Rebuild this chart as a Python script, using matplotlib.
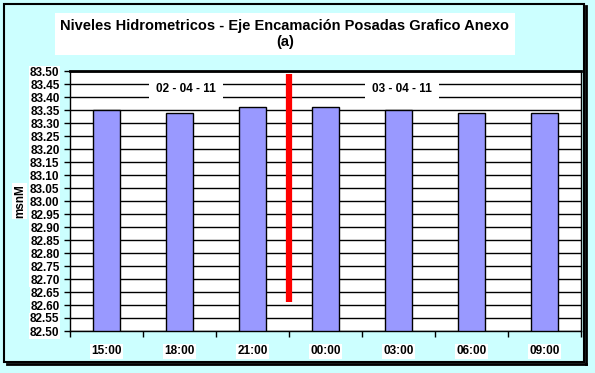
import numpy as np
import matplotlib
matplotlib.use("Agg")
from matplotlib import pyplot as plt
from matplotlib.patches import Rectangle

plt.rcParams['font.family'] = ['Liberation Sans', 'DejaVu Sans']
plt.rcParams['font.weight'] = 'bold'

horas = ['15:00', '18:00', '21:00', '00:00', '03:00', '06:00', '09:00']
niveles = [83.35, 83.34, 83.36, 83.36, 83.35, 83.34, 83.34]
fechas = ['02 - 04 - 11', '03 - 04 - 11']
fecha_x = [1.59, 4.55]
corte_x = 3.0
corte_y = [82.61, 83.49]

W, H = 595, 373
fig = plt.figure(figsize=(W / 100, H / 100), dpi=100)
fig.patch.set_facecolor('#CCFFFF')

# marco con sombra
fig.add_artist(Rectangle((4 / W, 1 - 362 / H), 580 / W, 358 / H, transform=fig.transFigure,
                         facecolor='none', edgecolor='black', lw=1.5))
fig.add_artist(plt.Line2D([586 / W, 586 / W], [1 - 364 / H, 1 - 6 / H], transform=fig.transFigure,
                          color='black', lw=2))
fig.add_artist(plt.Line2D([7 / W, 586 / W], [1 - 364 / H, 1 - 364 / H], transform=fig.transFigure,
                          color='black', lw=2))

ax = fig.add_axes([70 / W, 1 - 331 / H, 511 / W, 260 / H])
ax.set_facecolor('white')

x = np.arange(len(horas)) + 0.5
ax.bar(x, np.array(niveles) - 82.5, bottom=82.5, width=0.38, color='#9999FF',
       edgecolor='black', linewidth=1, zorder=3)

ax.set_xlim(0, len(horas))
ax.set_ylim(82.5, 83.5)
ax.set_yticks(np.arange(82.5, 83.501, 0.05))
ax.yaxis.grid(True, color='black', lw=1, zorder=0)
ax.set_axisbelow(True)
ax.set_yticklabels(['%.2f' % v for v in np.arange(82.5, 83.501, 0.05)], fontsize=8.5, fontweight='bold')
ax.set_xticks(np.arange(len(horas) + 1))
ax.set_xticklabels([])
ax.tick_params(axis='both', direction='out', length=4, width=1, color='black')
for s in ax.spines.values():
    s.set_color('black')
    s.set_linewidth(1)
ax.spines['top'].set_linewidth(2)

for xi, h in zip(x, horas):
    ax.text(xi, -0.055, h, transform=ax.get_xaxis_transform(), ha='center', va='top',
            fontsize=8.5, fontweight='bold',
            bbox=dict(facecolor='white', edgecolor='none', pad=1))
for lbl in ax.get_yticklabels():
    lbl.set_bbox(dict(facecolor='white', edgecolor='none', pad=0.5))

ax.plot([corte_x, corte_x], corte_y, color='#FF0000', lw=4.5, solid_capstyle='butt', zorder=5)

for fx, f in zip(fecha_x, fechas):
    ax.text(fx, 83.43, f, ha='center', va='center', fontsize=8.5, fontweight='heavy', zorder=4,
            bbox=dict(facecolor='white', edgecolor='none', pad=5))

ax.set_ylabel('msnM', fontsize=8.5, fontweight='bold', labelpad=3,
              bbox=dict(facecolor='white', edgecolor='none', pad=1))

fig.text(285 / W, 1 - 34 / H, 'Niveles Hidrometricos - Eje Encamación Posadas Grafico Anexo\n(a)',
         ha='center', va='center', fontsize=10.5, fontweight='bold', linespacing=1.25,
         bbox=dict(facecolor='white', edgecolor='none', pad=4))

fig.savefig('out.png', dpi=100, facecolor=fig.get_facecolor())
